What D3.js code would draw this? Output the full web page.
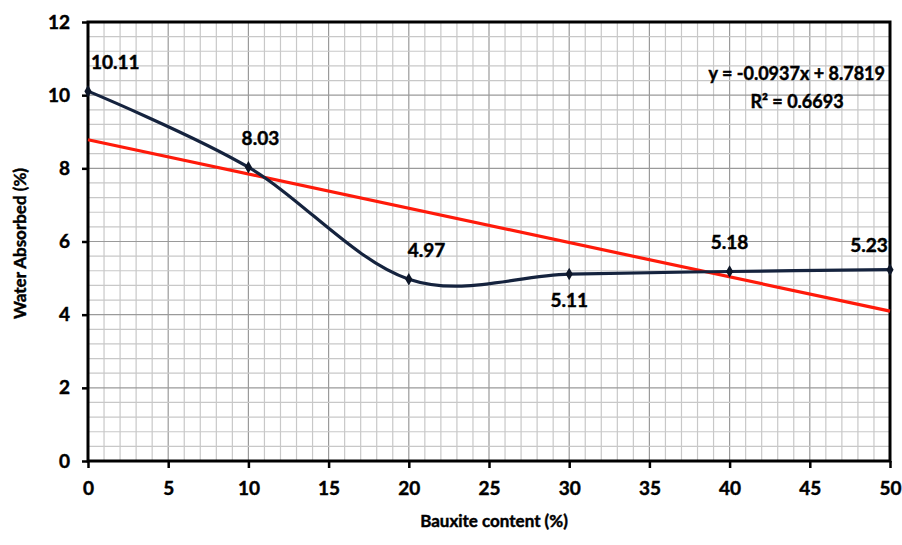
<!DOCTYPE html>
<html>
<head>
<meta charset="utf-8">
<script src="https://cdn.jsdelivr.net/npm/d3@7"></script>
<style>
  html, body { margin: 0; padding: 0; background: #fff; }
  svg text { font-family: Lato, "Open Sans", "Liberation Sans", sans-serif; font-weight: bold; fill: #000;
             stroke: #000; stroke-width: 0.45px; paint-order: stroke; }
</style>
</head>
<body>
<svg id="chart" width="902" height="545"></svg>
<script>
// Bauxite content (%) and measured water absorption (%)
const bauxite = [0, 10, 20, 30, 40, 50];
const waterAbsorbed = [10.11, 8.03, 4.97, 5.11, 5.18, 5.23];
const pointLabels = ["10.11", "8.03", "4.97", "5.11", "5.18", "5.23"];

// Linear trend fit
const trendSlope = -0.0937;
const trendIntercept = 8.7819;
const trendR2 = "0.6693";

const xTicks = [0, 5, 10, 15, 20, 25, 30, 35, 40, 45, 50];
const yTicks = [0, 2, 4, 6, 8, 10, 12];

const svg = d3.select("#chart");
const plotL = 88, plotR = 890, plotT = 22, plotB = 461;

const x = d3.scaleLinear().domain([0, 50]).range([plotL, plotR]);
const y = d3.scaleLinear().domain([0, 12]).range([plotB, plotT]);

// grid: minor every 1 on x, every 0.4 on y; majors slightly darker
const g = svg.append("g");
for (let v = 1; v < 50; v++) {
  g.append("line")
    .attr("x1", x(v)).attr("x2", x(v)).attr("y1", plotT).attr("y2", plotB)
    .attr("stroke", v % 5 === 0 ? "#9a9a9a" : "#c8c8c8").attr("stroke-width", 1.2);
}
for (let i = 1; i < 30; i++) {
  const v = i * 0.4;
  g.append("line")
    .attr("x1", plotL).attr("x2", plotR).attr("y1", y(v)).attr("y2", y(v))
    .attr("stroke", i % 5 === 0 ? "#9a9a9a" : "#c8c8c8").attr("stroke-width", 1.2);
}

// axes
const xAxis = d3.axisBottom(x).tickValues(xTicks).tickSize(7).tickPadding(14).tickFormat(d3.format("d"));
const yAxis = d3.axisLeft(y).tickValues(yTicks).tickSize(6).tickPadding(12).tickFormat(d3.format("d"));

const gx = svg.append("g").attr("transform", `translate(0,${plotB})`).call(xAxis);
const gy = svg.append("g").attr("transform", `translate(${plotL},0)`).call(yAxis);
[gx, gy].forEach(a => {
  a.select(".domain").remove();
  a.selectAll(".tick line").attr("stroke", "#000").attr("stroke-width", 2.5);
  a.selectAll(".tick text").style("font-size", "19px");
});

// frame
svg.append("rect")
  .attr("x", plotL).attr("y", plotT).attr("width", plotR - plotL).attr("height", plotB - plotT)
  .attr("fill", "none").attr("stroke", "#000").attr("stroke-width", 3);

// trend line
svg.append("line")
  .attr("x1", x(0)).attr("y1", y(trendIntercept))
  .attr("x2", x(50)).attr("y2", y(trendIntercept + trendSlope * 50))
  .attr("stroke", "#ff1a0a").attr("stroke-width", 3.2);

// data curve
const pts = bauxite.map((b, i) => [b, waterAbsorbed[i]]);
const line = d3.line().x(d => x(d[0])).y(d => y(d[1])).curve(d3.curveCatmullRom.alpha(0));
svg.append("path").datum(pts)
  .attr("d", line).attr("fill", "none")
  .attr("stroke", "#15233e").attr("stroke-width", 3.2);

// markers
svg.selectAll(".mk").data(pts).enter().append("path")
  .attr("class", "mk")
  .attr("transform", d => `translate(${x(d[0])},${y(d[1])})`)
  .attr("d", d3.symbol(d3.symbolDiamond, 45)())
  .attr("fill", "#0d1628");

// value labels
const labelPos = [
  {dx: 3, dy: -22, anchor: "start"},
  {dx: 12, dy: -22, anchor: "middle"},
  {dx: -1, dy: -22, anchor: "start"},
  {dx: 0, dy: 33, anchor: "middle"},
  {dx: 0, dy: -22, anchor: "middle"},
  {dx: -21, dy: -18, anchor: "middle"}
];
svg.selectAll(".vl").data(pts).enter().append("text")
  .attr("class", "vl")
  .attr("x", (d, i) => x(d[0]) + labelPos[i].dx)
  .attr("y", (d, i) => y(d[1]) + labelPos[i].dy)
  .attr("text-anchor", (d, i) => labelPos[i].anchor)
  .style("font-size", "19px")
  .text((d, i) => pointLabels[i]);

// trend equation
svg.append("text").attr("x", 885).attr("y", 80).attr("text-anchor", "end")
  .style("font-size", "18px")
  .text(`y = ${trendSlope.toFixed(4)}x + ${trendIntercept.toFixed(4)}`);
svg.append("text").attr("x", 797).attr("y", 108).attr("text-anchor", "middle")
  .style("font-size", "18px")
  .text(`R² = ${trendR2}`);

// axis titles
svg.append("text").attr("x", 494).attr("y", 527).attr("text-anchor", "middle")
  .style("font-size", "17px").text("Bauxite content (%)");
svg.append("text").attr("transform", `translate(26,${(plotT + plotB) / 2 + 2}) rotate(-90)`)
  .attr("text-anchor", "middle").style("font-size", "17px").text("Water Absorbed (%)");
</script>
</body>
</html>
